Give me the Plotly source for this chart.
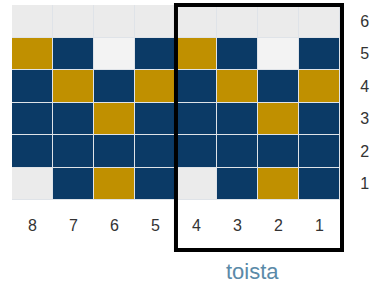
import plotly.graph_objects as go

# Columns (x axis, shown reversed 8..1) and rows (y axis 1..6)
x_labels = [8, 7, 6, 5, 4, 3, 2, 1]
y_labels = [1, 2, 3, 4, 5, 6]

# cell states per row (row y=1 first), columns in order of x_labels
row_1 = ["empty", "navy", "gold", "navy", "empty", "navy", "gold", "navy"]
row_2 = ["navy", "navy", "navy", "navy", "navy", "navy", "navy", "navy"]
row_3 = ["navy", "navy", "gold", "navy", "navy", "navy", "gold", "navy"]
row_4 = ["navy", "gold", "navy", "gold", "navy", "gold", "navy", "gold"]
row_5 = ["gold", "navy", "blank", "navy", "gold", "navy", "blank", "navy"]
row_6 = ["empty", "empty", "empty", "empty", "empty", "empty", "empty", "empty"]
rows = [row_1, row_2, row_3, row_4, row_5, row_6]

state_codes = {"empty": 0, "navy": 1, "gold": 2, "blank": 3}
state_colors = ["#ebebeb", "#0b3a66", "#c09000", "#f3f3f3"]

title_text = "toista"

z = [[state_codes[s] for s in r] for r in rows]
n = len(state_colors)
colorscale = []
for i, c in enumerate(state_colors):
    colorscale.append([i / n, c])
    colorscale.append([(i + 1) / n, c])

fig = go.Figure(go.Heatmap(
    x=x_labels, y=y_labels, z=z,
    zmin=-0.5, zmax=n - 0.5,
    colorscale=colorscale, showscale=False,
    xgap=1, ygap=1, hoverinfo="skip",
))

fig.update_layout(
    width=372, height=286,
    margin=dict(l=12, r=28, t=5, b=86),
    paper_bgcolor="white", plot_bgcolor="#dfe3e8",
    font=dict(family="Liberation Sans, Arial, sans-serif", size=16, color="#333333"),
    xaxis=dict(autorange="reversed", tickmode="array", tickvals=x_labels,
               showgrid=False, zeroline=False, ticks="outside", ticklen=11,
               tickcolor="rgba(0,0,0,0)", showline=False, automargin=False),
    yaxis=dict(side="right", tickmode="array", tickvals=y_labels,
               showgrid=False, zeroline=False, ticks="outside", ticklen=12,
               tickcolor="rgba(0,0,0,0)", showline=False, automargin=False),
    shapes=[dict(type="rect", xref="x", yref="paper",
                 x0=4.5, x1=0.45, y0=-0.256, y1=1,
                 line=dict(color="black", width=4), fillcolor="rgba(0,0,0,0)")],
    annotations=[dict(text=title_text, xref="paper", yref="paper",
                      x=0.725, y=-0.369, xanchor="center", yanchor="middle",
                      showarrow=False,
                      font=dict(size=22, color="#5a8aa8"))],
)

fig.write_html("out.html", config={"displayModeBar": False},
               post_script="document.body.style.margin='0';document.body.style.overflow='hidden';")
